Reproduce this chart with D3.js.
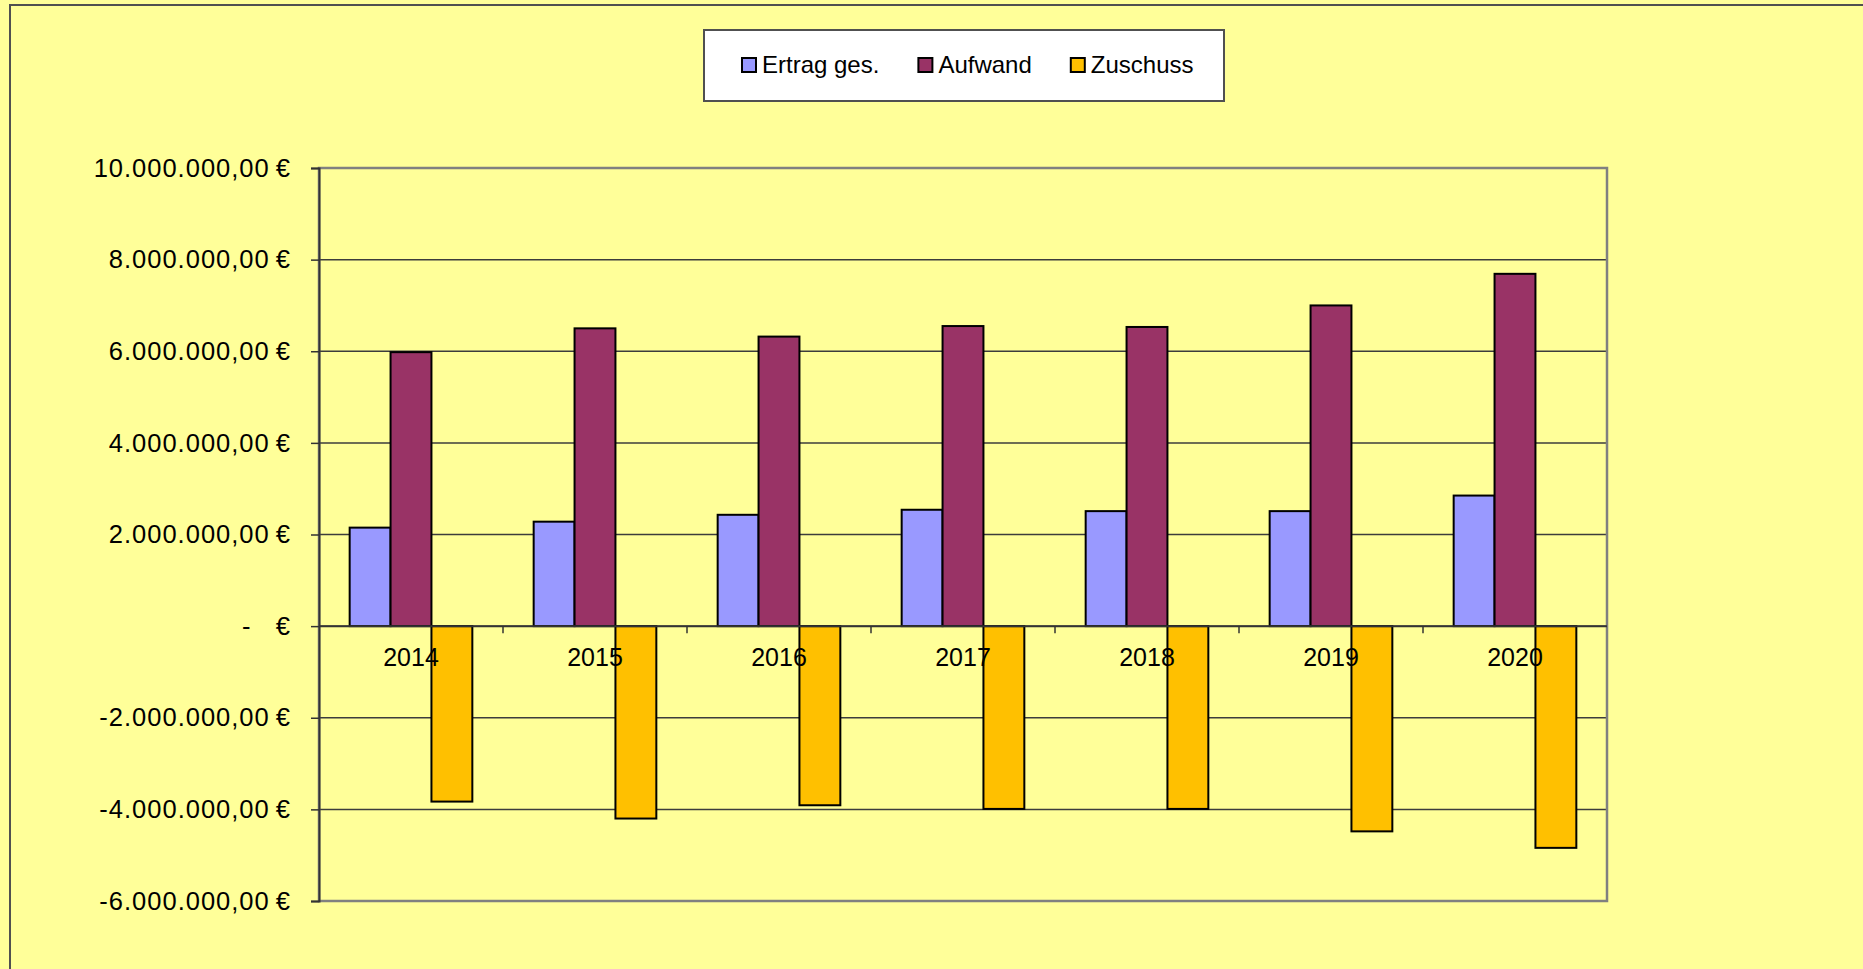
<!DOCTYPE html>
<html>
<head>
<meta charset="utf-8">
<script src="https://cdn.jsdelivr.net/npm/d3@7"></script>
<style>
  body { margin: 0; background: #ffff99; overflow: hidden; }
  text { font-family: Arial, "Liberation Sans", sans-serif; fill: #000; }
</style>
</head>
<body>
<div id="vis"></div>
<script>
// data
let years = ["2014", "2015", "2016", "2017", "2018", "2019", "2020"];
let seriesNames = ["Ertrag ges.", "Aufwand", "Zuschuss"];
let ertrag = [2150000, 2280000, 2430000, 2540000, 2510000, 2510000, 2850000];
let aufwand = [5980000, 6500000, 6320000, 6550000, 6530000, 7000000, 7690000];
let zuschuss = [-3830000, -4200000, -3910000, -3990000, -3990000, -4480000, -4840000];
let yTicks = [-6000000, -4000000, -2000000, 0, 2000000, 4000000, 6000000, 8000000, 10000000];
let colors = ["#9999ff", "#993366", "#ffc000"];

let W = 1863, H = 969;
let plot = { left: 319, right: 1607, top: 168, bottom: 901 };

let svg = d3.select("#vis")
  .append("svg")
  .attr("width", W)
  .attr("height", H)
  .style("display", "block");

// outer chart border (only left and top edges are inside the window)
svg.append("rect")
  .attr("x", 10).attr("y", 5)
  .attr("width", W + 20).attr("height", H + 20)
  .attr("fill", "#ffff99")
  .attr("stroke", "#505050")
  .attr("stroke-width", 2);

let x = d3.scaleBand().domain(years).range([plot.left, plot.right]);
let xSub = d3.scaleBand()
  .domain(seriesNames)
  .range([x.bandwidth() / 6, x.bandwidth() * 5 / 6]);
let y = d3.scaleLinear().domain([-6000000, 10000000]).range([plot.bottom, plot.top]);

let de = d3.formatLocale({ decimal: ",", thousands: ".", grouping: [3], currency: ["", "\u2009€"], minus: "-" });
let money = de.format("$,.2f");

// gridlines
svg.append("g")
  .selectAll("line")
  .data(yTicks)
  .join("line")
  .attr("x1", plot.left).attr("x2", plot.right)
  .attr("y1", d => y(d)).attr("y2", d => y(d))
  .attr("stroke", "#3c3c3c")
  .attr("stroke-width", 1.5);

// plot frame
svg.append("rect")
  .attr("x", plot.left).attr("y", plot.top)
  .attr("width", plot.right - plot.left)
  .attr("height", plot.bottom - plot.top)
  .attr("fill", "none")
  .attr("stroke", "#808080")
  .attr("stroke-width", 2.5);

// bars
let rows = years.map((yr, i) => ({ year: yr, values: [ertrag[i], aufwand[i], zuschuss[i]] }));
svg.append("g")
  .selectAll("g")
  .data(rows)
  .join("g")
  .attr("transform", d => `translate(${x(d.year)},0)`)
  .selectAll("rect")
  .data(d => d.values.map((v, k) => ({ key: seriesNames[k], value: v, k: k })))
  .join("rect")
  .attr("x", d => xSub(d.key))
  .attr("y", d => y(Math.max(0, d.value)))
  .attr("width", xSub.bandwidth())
  .attr("height", d => Math.abs(y(d.value) - y(0)))
  .attr("fill", d => colors[d.k])
  .attr("stroke", "#000")
  .attr("stroke-width", 2);

// y axis
let yAxis = svg.append("g")
  .attr("transform", `translate(${plot.left},0)`)
  .call(d3.axisLeft(y)
    .tickValues(yTicks)
    .tickSize(8)
    .tickPadding(20)
    .tickFormat(d => d === 0 ? "-\u00a0\u00a0\u00a0€" : money(d)));
yAxis.select(".domain").attr("stroke", "#333").attr("stroke-width", 2);
yAxis.selectAll(".tick line").attr("stroke", "#333").attr("stroke-width", 1.5);
yAxis.selectAll(".tick text")
  .style("font-size", "25.5px")
  .style("letter-spacing", "1px")
  .attr("fill", "#000");

// x axis on the zero line
let zeroY = y(0);
svg.append("line")
  .attr("x1", plot.left).attr("x2", plot.right)
  .attr("y1", zeroY).attr("y2", zeroY)
  .attr("stroke", "#333").attr("stroke-width", 2);
svg.append("g")
  .selectAll("line")
  .data(years.slice(1))
  .join("line")
  .attr("x1", d => x(d)).attr("x2", d => x(d))
  .attr("y1", zeroY).attr("y2", zeroY + 7)
  .attr("stroke", "#333").attr("stroke-width", 1.5);
svg.append("g")
  .selectAll("text")
  .data(years)
  .join("text")
  .attr("x", d => x(d) + x.bandwidth() / 2)
  .attr("y", zeroY + 31)
  .attr("dy", "0.35em")
  .attr("text-anchor", "middle")
  .style("font-size", "25px")
  .text(d => d);

// legend
let legend = svg.append("g");
legend.append("rect")
  .attr("x", 704).attr("y", 30)
  .attr("width", 520).attr("height", 71)
  .attr("fill", "#fff")
  .attr("stroke", "#505050")
  .attr("stroke-width", 2);
let cursor = 742;
seriesNames.forEach((name, i) => {
  legend.append("rect")
    .attr("x", cursor).attr("y", 58)
    .attr("width", 14).attr("height", 14)
    .attr("fill", colors[i])
    .attr("stroke", "#000")
    .attr("stroke-width", 2);
  let t = legend.append("text")
    .attr("x", cursor + 20)
    .attr("y", 73)
    .style("font-size", "24px")
    .text(name);
  cursor += 20 + t.node().getComputedTextLength() + 39;
});
</script>
</body>
</html>
